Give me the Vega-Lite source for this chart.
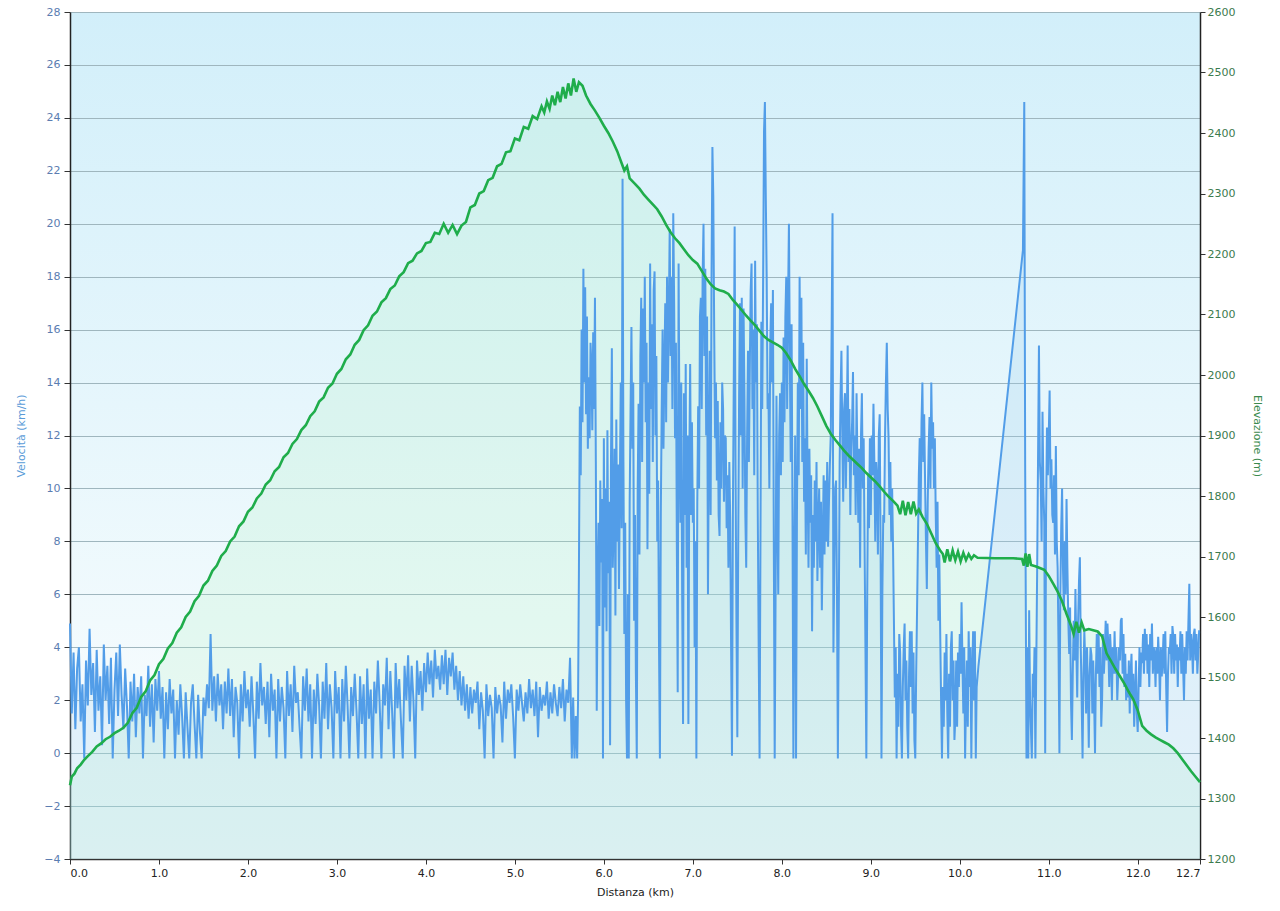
{
  "$schema": "https://vega.github.io/schema/vega-lite/v6.json",
  "width": 1130,
  "height": 847,
  "autosize": {"type": "none"},
  "padding": {"left": 70, "top": 12, "right": 80, "bottom": 52},
  "background": "#ffffff",
  "config": {
    "view": {"stroke": null, "fill": {"gradient": "linear", "x1": 0, "y1": 0, "x2": 0, "y2": 1, "stops": [{"offset": 0, "color": "#d2effa"}, {"offset": 0.72, "color": "#f1fafd"}, {"offset": 1, "color": "#ffffff"}]}},
    "font": "DejaVu Sans",
    "axis": {"labelFont": "DejaVu Sans", "titleFont": "DejaVu Sans", "labelFontSize": 11, "titleFontSize": 11, "titleFontWeight": "normal"}
  },
  "datasets": {
    "speed": [
      {"d":0.00,"v":4.9},{"d":0.02,"v":1.5},{"d":0.04,"v":3.8},{"d":0.06,"v":0.9},{"d":0.08,"v":3.2},{"d":0.10,"v":4.0},{"d":0.12,"v":1.2},{"d":0.14,"v":2.6},{"d":0.16,"v":-0.2},{"d":0.18,"v":3.5},
      {"d":0.20,"v":1.8},{"d":0.22,"v":4.7},{"d":0.24,"v":2.2},{"d":0.26,"v":3.4},{"d":0.28,"v":0.8},{"d":0.30,"v":3.9},{"d":0.32,"v":1.6},{"d":0.34,"v":2.9},{"d":0.36,"v":0.3},{"d":0.38,"v":4.1},
      {"d":0.40,"v":2.0},{"d":0.42,"v":3.3},{"d":0.44,"v":1.1},{"d":0.46,"v":3.6},{"d":0.48,"v":-0.2},{"d":0.50,"v":2.4},{"d":0.52,"v":3.8},{"d":0.54,"v":1.4},{"d":0.56,"v":4.1},{"d":0.58,"v":2.2},
      {"d":0.60,"v":0.9},{"d":0.62,"v":3.2},{"d":0.64,"v":1.8},{"d":0.66,"v":-0.2},{"d":0.68,"v":2.7},{"d":0.70,"v":1.2},{"d":0.72,"v":3.0},{"d":0.74,"v":0.6},{"d":0.76,"v":2.5},{"d":0.78,"v":1.5},
      {"d":0.80,"v":2.9},{"d":0.82,"v":-0.2},{"d":0.84,"v":2.2},{"d":0.86,"v":1.4},{"d":0.88,"v":3.3},{"d":0.90,"v":1.0},{"d":0.92,"v":2.6},{"d":0.94,"v":0.4},{"d":0.96,"v":2.8},{"d":0.98,"v":1.6},
      {"d":1.00,"v":3.1},{"d":1.02,"v":1.3},{"d":1.04,"v":2.5},{"d":1.06,"v":-0.2},{"d":1.08,"v":2.3},{"d":1.10,"v":0.9},{"d":1.12,"v":2.8},{"d":1.14,"v":1.5},{"d":1.16,"v":2.4},{"d":1.18,"v":-0.2},
      {"d":1.20,"v":2.0},{"d":1.22,"v":0.7},{"d":1.24,"v":2.6},{"d":1.26,"v":1.4},{"d":1.28,"v":-0.2},{"d":1.30,"v":2.3},{"d":1.32,"v":1.0},{"d":1.34,"v":-0.2},{"d":1.36,"v":1.9},{"d":1.38,"v":2.6},
      {"d":1.40,"v":1.1},{"d":1.42,"v":-0.2},{"d":1.44,"v":2.2},{"d":1.46,"v":0.8},{"d":1.48,"v":-0.2},{"d":1.50,"v":2.1},{"d":1.52,"v":1.4},{"d":1.54,"v":2.6},{"d":1.56,"v":1.7},{"d":1.58,"v":4.5},
      {"d":1.60,"v":1.6},{"d":1.62,"v":2.9},{"d":1.64,"v":1.2},{"d":1.66,"v":3.0},{"d":1.68,"v":1.8},{"d":1.70,"v":2.6},{"d":1.72,"v":0.9},{"d":1.74,"v":2.7},{"d":1.76,"v":1.5},{"d":1.78,"v":3.2},
      {"d":1.80,"v":1.4},{"d":1.82,"v":2.8},{"d":1.84,"v":0.6},{"d":1.86,"v":2.5},{"d":1.88,"v":1.9},{"d":1.90,"v":-0.2},{"d":1.92,"v":2.6},{"d":1.94,"v":1.2},{"d":1.96,"v":3.1},{"d":1.98,"v":1.7},
      {"d":2.00,"v":2.4},{"d":2.02,"v":1.0},{"d":2.04,"v":2.9},{"d":2.06,"v":1.5},{"d":2.08,"v":-0.2},{"d":2.10,"v":2.7},{"d":2.12,"v":1.3},{"d":2.14,"v":3.4},{"d":2.16,"v":1.8},{"d":2.18,"v":2.5},
      {"d":2.20,"v":1.1},{"d":2.22,"v":2.7},{"d":2.24,"v":0.6},{"d":2.26,"v":3.0},{"d":2.28,"v":1.6},{"d":2.30,"v":2.4},{"d":2.32,"v":-0.2},{"d":2.34,"v":2.8},{"d":2.36,"v":1.2},{"d":2.38,"v":2.5},
      {"d":2.40,"v":1.7},{"d":2.42,"v":-0.2},{"d":2.44,"v":3.1},{"d":2.46,"v":1.4},{"d":2.48,"v":2.6},{"d":2.50,"v":0.8},{"d":2.52,"v":3.3},{"d":2.54,"v":1.9},{"d":2.56,"v":2.3},{"d":2.58,"v":1.0},
      {"d":2.60,"v":-0.2},{"d":2.62,"v":2.9},{"d":2.64,"v":1.6},{"d":2.66,"v":3.2},{"d":2.68,"v":1.2},{"d":2.70,"v":2.6},{"d":2.72,"v":-0.2},{"d":2.74,"v":2.4},{"d":2.76,"v":1.1},{"d":2.78,"v":3.0},
      {"d":2.80,"v":1.8},{"d":2.82,"v":-0.2},{"d":2.84,"v":2.7},{"d":2.86,"v":1.3},{"d":2.88,"v":3.4},{"d":2.90,"v":0.9},{"d":2.92,"v":2.6},{"d":2.94,"v":1.7},{"d":2.96,"v":-0.2},{"d":2.98,"v":3.1},
      {"d":3.00,"v":1.5},{"d":3.02,"v":2.5},{"d":3.04,"v":-0.2},{"d":3.06,"v":2.8},{"d":3.08,"v":1.2},{"d":3.10,"v":3.3},{"d":3.12,"v":1.8},{"d":3.14,"v":-0.2},{"d":3.16,"v":2.5},{"d":3.18,"v":1.4},
      {"d":3.20,"v":3.0},{"d":3.22,"v":1.6},{"d":3.24,"v":-0.2},{"d":3.26,"v":2.9},{"d":3.28,"v":1.1},{"d":3.30,"v":2.6},{"d":3.32,"v":-0.2},{"d":3.34,"v":3.2},{"d":3.36,"v":1.3},{"d":3.38,"v":2.4},
      {"d":3.40,"v":-0.2},{"d":3.42,"v":2.7},{"d":3.44,"v":1.5},{"d":3.46,"v":3.5},{"d":3.48,"v":1.9},{"d":3.50,"v":-0.2},{"d":3.52,"v":2.6},{"d":3.54,"v":1.8},{"d":3.56,"v":3.6},{"d":3.58,"v":0.9},
      {"d":3.60,"v":3.1},{"d":3.62,"v":1.6},{"d":3.64,"v":-0.2},{"d":3.66,"v":3.4},{"d":3.68,"v":1.7},{"d":3.70,"v":2.8},{"d":3.72,"v":1.2},{"d":3.74,"v":-0.2},{"d":3.76,"v":3.3},{"d":3.78,"v":2.0},
      {"d":3.80,"v":3.7},{"d":3.82,"v":1.2},{"d":3.84,"v":3.3},{"d":3.86,"v":2.0},{"d":3.88,"v":-0.2},{"d":3.90,"v":3.5},{"d":3.92,"v":2.2},{"d":3.94,"v":3.1},{"d":3.96,"v":1.6},{"d":3.98,"v":3.4},
      {"d":4.00,"v":2.3},{"d":4.02,"v":3.8},{"d":4.04,"v":2.6},{"d":4.06,"v":3.5},{"d":4.08,"v":2.1},{"d":4.10,"v":3.9},{"d":4.12,"v":2.8},{"d":4.14,"v":3.3},{"d":4.16,"v":2.4},{"d":4.18,"v":3.7},
      {"d":4.20,"v":2.6},{"d":4.22,"v":3.9},{"d":4.24,"v":2.2},{"d":4.26,"v":3.6},{"d":4.28,"v":2.9},{"d":4.30,"v":3.8},{"d":4.32,"v":2.4},{"d":4.34,"v":3.3},{"d":4.36,"v":2.0},{"d":4.38,"v":3.1},
      {"d":4.40,"v":1.8},{"d":4.42,"v":2.9},{"d":4.44,"v":1.6},{"d":4.46,"v":2.6},{"d":4.48,"v":1.3},{"d":4.50,"v":2.5},{"d":4.52,"v":1.5},{"d":4.54,"v":2.4},{"d":4.56,"v":1.9},{"d":4.58,"v":2.7},
      {"d":4.60,"v":0.9},{"d":4.62,"v":2.3},{"d":4.64,"v":1.6},{"d":4.66,"v":-0.2},{"d":4.68,"v":2.6},{"d":4.70,"v":1.4},{"d":4.72,"v":2.2},{"d":4.74,"v":1.7},{"d":4.76,"v":-0.2},{"d":4.78,"v":2.5},
      {"d":4.80,"v":1.5},{"d":4.82,"v":2.2},{"d":4.84,"v":1.8},{"d":4.86,"v":0.4},{"d":4.88,"v":2.7},{"d":4.90,"v":1.3},{"d":4.92,"v":2.4},{"d":4.94,"v":1.9},{"d":4.96,"v":2.6},{"d":4.98,"v":1.4},
      {"d":5.00,"v":-0.2},{"d":5.02,"v":2.4},{"d":5.04,"v":1.6},{"d":5.06,"v":2.6},{"d":5.08,"v":1.9},{"d":5.10,"v":1.2},{"d":5.12,"v":2.3},{"d":5.14,"v":1.5},{"d":5.16,"v":2.8},{"d":5.18,"v":1.7},
      {"d":5.20,"v":2.4},{"d":5.22,"v":1.4},{"d":5.24,"v":2.7},{"d":5.26,"v":0.6},{"d":5.28,"v":2.5},{"d":5.30,"v":1.6},{"d":5.32,"v":2.2},{"d":5.34,"v":1.8},{"d":5.36,"v":2.7},{"d":5.38,"v":1.3},
      {"d":5.40,"v":2.3},{"d":5.42,"v":1.5},{"d":5.44,"v":2.6},{"d":5.46,"v":1.9},{"d":5.48,"v":1.4},{"d":5.50,"v":2.5},{"d":5.52,"v":1.7},{"d":5.54,"v":2.8},{"d":5.56,"v":1.2},{"d":5.58,"v":2.4},
      {"d":5.60,"v":1.9},{"d":5.62,"v":3.6},{"d":5.64,"v":-0.2},
      {"d":5.655,"v":2.1},{"d":5.67,"v":-0.2},{"d":5.685,"v":1.4},{"d":5.70,"v":-0.2},{"d":5.71,"v":2.0},{"d":5.72,"v":7.0},{"d":5.73,"v":13.1},{"d":5.74,"v":10.5},{"d":5.75,"v":16.0},{"d":5.76,"v":12.5},
      {"d":5.77,"v":18.3},{"d":5.78,"v":14.0},{"d":5.79,"v":17.6},{"d":5.80,"v":12.8},{"d":5.81,"v":16.5},{"d":5.82,"v":11.5},{"d":5.83,"v":14.2},{"d":5.84,"v":11.9},{"d":5.85,"v":15.5},{"d":5.86,"v":14.7},
      {"d":5.87,"v":12.2},{"d":5.88,"v":15.9},{"d":5.89,"v":13.0},{"d":5.90,"v":17.2},{"d":5.91,"v":11.0},{"d":5.92,"v":1.6},{"d":5.93,"v":6.5},{"d":5.94,"v":8.7},{"d":5.95,"v":4.8},{"d":5.96,"v":10.3},
      {"d":5.97,"v":7.2},{"d":5.98,"v":9.6},{"d":5.99,"v":-0.2},{"d":6.00,"v":11.9},{"d":6.01,"v":5.5},{"d":6.02,"v":10.0},{"d":6.03,"v":4.6},{"d":6.04,"v":12.2},{"d":6.05,"v":6.8},{"d":6.06,"v":9.5},
      {"d":6.07,"v":0.3},{"d":6.08,"v":11.0},{"d":6.09,"v":15.3},{"d":6.10,"v":7.0},{"d":6.11,"v":8.7},{"d":6.12,"v":11.5},{"d":6.13,"v":5.2},{"d":6.14,"v":12.6},{"d":6.15,"v":8.0},{"d":6.16,"v":10.9},
      {"d":6.17,"v":6.2},{"d":6.18,"v":10.3},{"d":6.19,"v":14.0},{"d":6.20,"v":8.5},{"d":6.21,"v":21.7},{"d":6.22,"v":11.0},{"d":6.23,"v":4.5},{"d":6.24,"v":8.7},{"d":6.25,"v":2.0},{"d":6.26,"v":-0.2},
      {"d":6.27,"v":6.0},{"d":6.28,"v":-0.2},{"d":6.29,"v":9.5},{"d":6.30,"v":13.0},{"d":6.31,"v":16.1},{"d":6.32,"v":11.5},{"d":6.33,"v":14.0},{"d":6.34,"v":5.0},{"d":6.35,"v":9.0},{"d":6.36,"v":3.0},
      {"d":6.37,"v":-0.2},{"d":6.38,"v":10.0},{"d":6.39,"v":13.2},{"d":6.40,"v":7.5},{"d":6.41,"v":15.0},{"d":6.42,"v":17.2},{"d":6.43,"v":11.0},{"d":6.44,"v":16.8},{"d":6.45,"v":14.0},{"d":6.46,"v":18.0},
      {"d":6.47,"v":12.5},{"d":6.48,"v":15.5},{"d":6.49,"v":7.7},{"d":6.50,"v":14.0},{"d":6.51,"v":9.8},{"d":6.52,"v":18.5},{"d":6.53,"v":13.0},{"d":6.54,"v":16.2},{"d":6.55,"v":11.0},{"d":6.56,"v":17.5},
      {"d":6.57,"v":18.2},{"d":6.58,"v":12.0},{"d":6.59,"v":15.0},{"d":6.60,"v":8.0},{"d":6.61,"v":10.3},{"d":6.62,"v":4.0},{"d":6.63,"v":-0.2},{"d":6.64,"v":9.0},{"d":6.65,"v":13.0},{"d":6.66,"v":16.0},
      {"d":6.67,"v":11.5},{"d":6.68,"v":14.5},{"d":6.69,"v":17.0},{"d":6.70,"v":12.5},{"d":6.71,"v":18.0},{"d":6.72,"v":14.0},{"d":6.73,"v":16.5},{"d":6.74,"v":19.8},{"d":6.75,"v":15.0},{"d":6.76,"v":18.0},
      {"d":6.77,"v":13.0},{"d":6.78,"v":20.4},{"d":6.79,"v":17.0},{"d":6.80,"v":11.9},{"d":6.81,"v":15.5},{"d":6.82,"v":8.0},{"d":6.83,"v":2.3},{"d":6.84,"v":18.5},{"d":6.85,"v":12.0},{"d":6.86,"v":8.7},
      {"d":6.87,"v":14.0},{"d":6.88,"v":6.0},{"d":6.89,"v":1.1},{"d":6.90,"v":13.6},{"d":6.91,"v":9.0},{"d":6.92,"v":14.7},{"d":6.93,"v":7.0},{"d":6.94,"v":12.0},{"d":6.95,"v":1.1},{"d":6.96,"v":11.0},
      {"d":6.97,"v":14.7},{"d":6.98,"v":9.0},{"d":6.99,"v":12.5},{"d":7.00,"v":8.7},{"d":7.01,"v":10.0},{"d":7.02,"v":4.0},{"d":7.03,"v":8.0},{"d":7.04,"v":-0.2},{"d":7.05,"v":9.5},{"d":7.06,"v":13.1},
      {"d":7.07,"v":10.0},{"d":7.08,"v":16.5},{"d":7.09,"v":17.2},{"d":7.10,"v":13.0},{"d":7.11,"v":18.0},{"d":7.12,"v":20.0},{"d":7.13,"v":15.0},{"d":7.14,"v":18.3},{"d":7.15,"v":12.0},{"d":7.16,"v":16.5},
      {"d":7.17,"v":6.0},{"d":7.18,"v":11.5},{"d":7.19,"v":15.2},{"d":7.20,"v":9.0},{"d":7.21,"v":18.0},{"d":7.22,"v":22.9},{"d":7.23,"v":21.0},{"d":7.24,"v":16.0},{"d":7.25,"v":11.9},{"d":7.26,"v":14.0},
      {"d":7.27,"v":10.3},{"d":7.28,"v":13.3},{"d":7.29,"v":9.0},{"d":7.30,"v":8.2},{"d":7.31,"v":12.5},{"d":7.32,"v":10.0},{"d":7.33,"v":14.0},{"d":7.34,"v":13.0},{"d":7.35,"v":9.5},{"d":7.36,"v":12.0},
      {"d":7.37,"v":11.9},{"d":7.38,"v":8.5},{"d":7.39,"v":10.5},{"d":7.40,"v":7.0},{"d":7.41,"v":11.0},{"d":7.42,"v":8.8},{"d":7.43,"v":4.0},{"d":7.44,"v":-0.1},{"d":7.45,"v":9.0},{"d":7.46,"v":14.0},
      {"d":7.47,"v":19.9},{"d":7.48,"v":11.0},{"d":7.49,"v":5.0},{"d":7.50,"v":0.6},{"d":7.51,"v":8.0},{"d":7.52,"v":13.5},{"d":7.53,"v":17.0},{"d":7.54,"v":12.0},{"d":7.55,"v":17.2},{"d":7.56,"v":10.0},
      {"d":7.57,"v":16.8},{"d":7.58,"v":13.5},{"d":7.59,"v":9.0},{"d":7.60,"v":7.0},{"d":7.61,"v":12.0},{"d":7.62,"v":15.2},{"d":7.63,"v":11.0},{"d":7.64,"v":14.5},{"d":7.65,"v":17.5},{"d":7.66,"v":18.5},
      {"d":7.67,"v":13.0},{"d":7.68,"v":16.0},{"d":7.69,"v":10.5},{"d":7.70,"v":18.6},{"d":7.71,"v":14.0},{"d":7.72,"v":16.2},{"d":7.73,"v":9.0},{"d":7.74,"v":4.0},{"d":7.75,"v":-0.2},{"d":7.76,"v":8.0},
      {"d":7.77,"v":16.3},{"d":7.78,"v":13.0},{"d":7.79,"v":18.0},{"d":7.80,"v":23.5},{"d":7.81,"v":24.6},{"d":7.82,"v":21.0},{"d":7.83,"v":18.0},{"d":7.84,"v":13.0},{"d":7.85,"v":13.6},{"d":7.86,"v":10.0},
      {"d":7.87,"v":15.5},{"d":7.88,"v":17.0},{"d":7.89,"v":14.0},{"d":7.90,"v":17.5},{"d":7.91,"v":8.0},{"d":7.92,"v":-0.2},{"d":7.93,"v":6.0},{"d":7.94,"v":13.5},{"d":7.95,"v":9.0},{"d":7.96,"v":6.0},
      {"d":7.97,"v":12.0},{"d":7.98,"v":13.6},{"d":7.99,"v":10.5},{"d":8.00,"v":14.0},{"d":8.01,"v":11.0},{"d":8.02,"v":15.7},{"d":8.03,"v":12.5},{"d":8.04,"v":16.5},{"d":8.05,"v":18.0},{"d":8.06,"v":13.0},
      {"d":8.07,"v":17.0},{"d":8.08,"v":20.0},{"d":8.09,"v":15.0},{"d":8.10,"v":11.0},{"d":8.11,"v":16.2},{"d":8.12,"v":9.0},{"d":8.13,"v":-0.2},{"d":8.14,"v":7.0},{"d":8.15,"v":12.0},{"d":8.16,"v":-0.2},
      {"d":8.17,"v":9.0},{"d":8.18,"v":14.0},{"d":8.19,"v":10.5},{"d":8.20,"v":18.0},{"d":8.21,"v":13.0},{"d":8.22,"v":17.2},{"d":8.23,"v":11.0},{"d":8.24,"v":15.5},{"d":8.25,"v":9.5},{"d":8.26,"v":11.9},
      {"d":8.27,"v":7.5},{"d":8.28,"v":14.9},{"d":8.29,"v":10.0},{"d":8.30,"v":7.0},{"d":8.31,"v":11.5},{"d":8.32,"v":8.7},{"d":8.33,"v":10.5},{"d":8.34,"v":4.6},{"d":8.35,"v":9.0},{"d":8.36,"v":7.0},
      {"d":8.37,"v":10.3},{"d":8.38,"v":8.0},{"d":8.39,"v":11.0},{"d":8.40,"v":6.5},{"d":8.41,"v":8.7},{"d":8.42,"v":10.0},{"d":8.43,"v":7.0},{"d":8.44,"v":9.5},{"d":8.45,"v":5.4},{"d":8.46,"v":8.0},
      {"d":8.47,"v":10.5},{"d":8.48,"v":7.5},{"d":8.49,"v":10.3},{"d":8.50,"v":8.0},{"d":8.51,"v":11.0},{"d":8.52,"v":7.8},{"d":8.53,"v":9.5},{"d":8.54,"v":10.9},{"d":8.55,"v":12.0},{"d":8.56,"v":16.0},
      {"d":8.57,"v":20.4},{"d":8.575,"v":12.0},{"d":8.58,"v":3.8},{"d":8.59,"v":7.0},{"d":8.60,"v":10.0},{"d":8.61,"v":10.3},{"d":8.62,"v":6.0},{"d":8.63,"v":-0.2},{"d":8.64,"v":5.0},{"d":8.65,"v":11.0},
      {"d":8.66,"v":13.5},{"d":8.67,"v":15.2},{"d":8.68,"v":12.0},{"d":8.69,"v":9.5},{"d":8.70,"v":13.0},{"d":8.71,"v":13.6},{"d":8.72,"v":10.0},{"d":8.73,"v":12.5},{"d":8.74,"v":15.4},{"d":8.75,"v":11.0},
      {"d":8.76,"v":13.0},{"d":8.77,"v":9.0},{"d":8.78,"v":11.5},{"d":8.79,"v":12.5},{"d":8.80,"v":14.4},{"d":8.81,"v":10.5},{"d":8.82,"v":12.0},{"d":8.83,"v":9.0},{"d":8.84,"v":13.6},{"d":8.85,"v":11.0},
      {"d":8.86,"v":8.7},{"d":8.87,"v":11.5},{"d":8.88,"v":7.0},{"d":8.89,"v":12.0},{"d":8.90,"v":13.6},{"d":8.91,"v":10.0},{"d":8.92,"v":11.9},{"d":8.93,"v":8.0},{"d":8.94,"v":4.0},{"d":8.95,"v":-0.2},
      {"d":8.96,"v":6.0},{"d":8.97,"v":10.5},{"d":8.98,"v":8.5},{"d":8.99,"v":11.9},{"d":9.00,"v":9.0},{"d":9.01,"v":12.0},{"d":9.02,"v":10.5},{"d":9.03,"v":13.2},{"d":9.04,"v":11.0},{"d":9.05,"v":8.0},
      {"d":9.06,"v":11.0},{"d":9.07,"v":10.3},{"d":9.08,"v":7.5},{"d":9.09,"v":12.0},{"d":9.10,"v":12.8},{"d":9.11,"v":8.0},{"d":9.12,"v":-0.2},{"d":9.13,"v":6.0},{"d":9.14,"v":9.0},{"d":9.15,"v":8.7},
      {"d":9.16,"v":12.0},{"d":9.17,"v":14.0},{"d":9.18,"v":15.5},{"d":9.19,"v":13.0},{"d":9.20,"v":11.9},{"d":9.21,"v":9.0},{"d":9.22,"v":11.0},{"d":9.23,"v":8.0},{"d":9.24,"v":10.0},{"d":9.25,"v":7.8},
      {"d":9.26,"v":5.0},{"d":9.27,"v":2.1},{"d":9.28,"v":4.0},{"d":9.29,"v":-0.2},{"d":9.30,"v":3.0},{"d":9.31,"v":1.0},{"d":9.32,"v":4.5},{"d":9.33,"v":3.8},{"d":9.34,"v":1.0},{"d":9.35,"v":-0.2},
      {"d":9.36,"v":2.5},{"d":9.37,"v":4.0},{"d":9.38,"v":4.9},{"d":9.39,"v":2.0},{"d":9.40,"v":3.5},{"d":9.41,"v":1.0},{"d":9.42,"v":-0.2},{"d":9.43,"v":3.0},{"d":9.44,"v":4.6},{"d":9.45,"v":2.5},
      {"d":9.46,"v":4.6},{"d":9.47,"v":1.5},{"d":9.48,"v":3.8},{"d":9.49,"v":0.5},{"d":9.50,"v":-0.2},{"d":9.51,"v":3.0},{"d":9.52,"v":5.4},{"d":9.53,"v":8.0},{"d":9.54,"v":10.5},{"d":9.55,"v":11.9},
      {"d":9.56,"v":9.0},{"d":9.57,"v":12.5},{"d":9.58,"v":14.0},{"d":9.59,"v":11.0},{"d":9.60,"v":12.8},{"d":9.61,"v":10.3},{"d":9.62,"v":8.0},{"d":9.63,"v":6.2},{"d":9.64,"v":9.5},{"d":9.65,"v":11.5},
      {"d":9.66,"v":12.7},{"d":9.67,"v":10.0},{"d":9.68,"v":14.0},{"d":9.69,"v":11.5},{"d":9.70,"v":12.5},{"d":9.71,"v":10.0},{"d":9.72,"v":11.9},{"d":9.73,"v":9.0},{"d":9.74,"v":7.0},{"d":9.75,"v":9.5},
      {"d":9.76,"v":5.0},{"d":9.77,"v":7.5},{"d":9.78,"v":4.6},{"d":9.79,"v":2.0},{"d":9.80,"v":-0.2},{"d":9.81,"v":2.5},{"d":9.82,"v":1.0},{"d":9.83,"v":3.8},{"d":9.84,"v":2.0},{"d":9.85,"v":4.5},
      {"d":9.86,"v":1.5},{"d":9.87,"v":-0.2},{"d":9.88,"v":3.0},{"d":9.89,"v":1.0},{"d":9.90,"v":4.0},{"d":9.91,"v":4.6},{"d":9.92,"v":2.0},{"d":9.93,"v":3.5},{"d":9.94,"v":0.5},{"d":9.95,"v":1.3},
      {"d":9.96,"v":3.5},{"d":9.97,"v":1.0},{"d":9.98,"v":3.8},{"d":9.99,"v":2.5},{"d":10.00,"v":4.5},{"d":10.01,"v":3.0},{"d":10.02,"v":5.7},{"d":10.03,"v":3.5},{"d":10.04,"v":1.5},{"d":10.05,"v":4.0},
      {"d":10.06,"v":-0.2},{"d":10.07,"v":2.0},{"d":10.08,"v":3.5},{"d":10.09,"v":1.0},{"d":10.10,"v":4.6},{"d":10.11,"v":2.5},{"d":10.12,"v":4.0},{"d":10.13,"v":-0.2},{"d":10.14,"v":3.0},{"d":10.15,"v":4.6},
      {"d":10.16,"v":2.0},{"d":10.17,"v":4.6},{"d":10.18,"v":-0.2},{"d":10.19,"v":2.5},{"d":10.21,"v":3.3},{"d":10.71,"v":19.0},{"d":10.725,"v":24.6},{"d":10.735,"v":10.9},{"d":10.75,"v":-0.2},{"d":10.76,"v":4.0},
      {"d":10.77,"v":-0.2},{"d":10.78,"v":5.4},{"d":10.79,"v":2.0},{"d":10.81,"v":-0.2},{"d":10.82,"v":3.0},{"d":10.83,"v":2.1},{"d":10.84,"v":4.0},{"d":10.85,"v":-0.2},{"d":10.87,"v":7.0},{"d":10.89,"v":15.4},
      {"d":10.90,"v":11.0},{"d":10.91,"v":10.3},{"d":10.92,"v":8.0},{"d":10.93,"v":12.9},{"d":10.94,"v":10.0},{"d":10.95,"v":8.7},{"d":10.96,"v":0.0},{"d":10.97,"v":9.0},{"d":10.98,"v":12.3},{"d":10.99,"v":10.5},
      {"d":11.00,"v":12.0},{"d":11.01,"v":13.7},{"d":11.02,"v":10.0},{"d":11.03,"v":11.1},{"d":11.04,"v":9.0},{"d":11.05,"v":8.7},{"d":11.06,"v":10.5},{"d":11.07,"v":7.5},{"d":11.08,"v":11.6},{"d":11.09,"v":8.0},
      {"d":11.10,"v":7.0},{"d":11.11,"v":4.0},{"d":11.12,"v":0.0},{"d":11.13,"v":6.0},{"d":11.14,"v":8.5},{"d":11.15,"v":10.0},{"d":11.16,"v":7.0},{"d":11.17,"v":5.4},{"d":11.18,"v":8.0},{"d":11.19,"v":6.0},
      {"d":11.20,"v":9.6},{"d":11.21,"v":7.0},{"d":11.22,"v":5.0},{"d":11.23,"v":3.75},{"d":11.24,"v":5.5},{"d":11.25,"v":2.0},{"d":11.26,"v":0.5},{"d":11.27,"v":3.0},{"d":11.28,"v":5.0},{"d":11.29,"v":3.5},
      {"d":11.30,"v":6.2},{"d":11.31,"v":4.0},{"d":11.32,"v":2.1},{"d":11.33,"v":5.0},{"d":11.34,"v":6.5},{"d":11.35,"v":7.4},{"d":11.36,"v":4.0},{"d":11.37,"v":2.0},{"d":11.38,"v":-0.2},{"d":11.39,"v":3.0},
      {"d":11.40,"v":4.6},{"d":11.41,"v":3.5},{"d":11.42,"v":1.5},{"d":11.43,"v":4.0},{"d":11.44,"v":2.5},{"d":11.45,"v":0.2},{"d":11.46,"v":3.0},{"d":11.47,"v":4.0},{"d":11.48,"v":3.7},{"d":11.49,"v":1.5},
      {"d":11.50,"v":3.5},{"d":11.51,"v":2.0},{"d":11.52,"v":0.0},{"d":11.53,"v":3.0},{"d":11.54,"v":4.5},{"d":11.55,"v":3.0},{"d":11.56,"v":4.6},{"d":11.57,"v":2.5},{"d":11.58,"v":4.0},{"d":11.59,"v":1.0},
      {"d":11.60,"v":2.1},{"d":11.61,"v":4.5},{"d":11.62,"v":3.0},{"d":11.63,"v":3.9},{"d":11.64,"v":5.0},{"d":11.65,"v":3.5},{"d":11.66,"v":4.9},{"d":11.67,"v":4.0},{"d":11.68,"v":2.5},{"d":11.69,"v":4.5},
      {"d":11.70,"v":3.7},{"d":11.71,"v":2.0},{"d":11.72,"v":4.0},{"d":11.73,"v":3.0},{"d":11.74,"v":4.6},{"d":11.75,"v":3.0},{"d":11.76,"v":4.0},{"d":11.77,"v":2.0},{"d":11.78,"v":2.9},{"d":11.79,"v":4.0},
      {"d":11.80,"v":3.5},{"d":11.81,"v":5.0},{"d":11.82,"v":5.1},{"d":11.83,"v":3.0},{"d":11.84,"v":4.5},{"d":11.85,"v":2.5},{"d":11.86,"v":3.75},{"d":11.87,"v":2.0},{"d":11.88,"v":3.0},{"d":11.89,"v":2.1},
      {"d":11.90,"v":3.5},{"d":11.91,"v":1.5},{"d":11.92,"v":3.0},{"d":11.93,"v":3.75},{"d":11.94,"v":2.0},{"d":11.95,"v":3.0},{"d":11.96,"v":1.0},{"d":11.97,"v":2.1},{"d":11.98,"v":3.5},{"d":11.99,"v":1.5},
      {"d":12.00,"v":0.8},{"d":12.01,"v":2.5},{"d":12.02,"v":4.0},{"d":12.03,"v":2.5},{"d":12.04,"v":3.8},{"d":12.05,"v":3.4},{"d":12.06,"v":4.5},{"d":12.07,"v":3.0},{"d":12.08,"v":4.7},{"d":12.09,"v":3.5},
      {"d":12.10,"v":4.5},{"d":12.11,"v":3.0},{"d":12.12,"v":4.1},{"d":12.13,"v":2.5},{"d":12.14,"v":4.5},{"d":12.15,"v":3.5},{"d":12.16,"v":4.9},{"d":12.17,"v":3.0},{"d":12.18,"v":4.0},{"d":12.19,"v":3.75},
      {"d":12.20,"v":2.5},{"d":12.21,"v":4.0},{"d":12.22,"v":3.0},{"d":12.23,"v":4.4},{"d":12.24,"v":3.5},{"d":12.25,"v":2.0},{"d":12.26,"v":4.0},{"d":12.27,"v":2.9},{"d":12.28,"v":3.5},{"d":12.29,"v":4.5},
      {"d":12.30,"v":3.0},{"d":12.31,"v":4.6},{"d":12.32,"v":2.5},{"d":12.33,"v":0.8},{"d":12.34,"v":3.0},{"d":12.35,"v":4.0},{"d":12.36,"v":3.75},{"d":12.37,"v":4.5},{"d":12.38,"v":3.0},{"d":12.39,"v":4.8},
      {"d":12.40,"v":4.4},{"d":12.41,"v":3.0},{"d":12.42,"v":4.5},{"d":12.43,"v":3.5},{"d":12.44,"v":4.1},{"d":12.45,"v":2.5},{"d":12.46,"v":4.0},{"d":12.47,"v":3.5},{"d":12.48,"v":4.6},{"d":12.49,"v":3.0},
      {"d":12.50,"v":4.5},{"d":12.51,"v":3.3},{"d":12.52,"v":2.0},{"d":12.53,"v":4.0},{"d":12.54,"v":3.0},{"d":12.55,"v":4.6},{"d":12.56,"v":3.5},{"d":12.57,"v":5.0},{"d":12.58,"v":6.4},{"d":12.59,"v":3.5},
      {"d":12.60,"v":4.5},{"d":12.61,"v":4.1},{"d":12.62,"v":3.0},{"d":12.63,"v":4.5},{"d":12.64,"v":4.7},{"d":12.65,"v":3.5},{"d":12.66,"v":4.5},{"d":12.67,"v":3.0},{"d":12.68,"v":3.75},{"d":12.69,"v":4.6},
      {"d":12.70,"v":4.6}
    ],
    "elev": [
      {"d":0.00,"e":1322},{"d":0.02,"e":1336},{"d":0.05,"e":1341},{"d":0.08,"e":1350},{"d":0.12,"e":1356},{"d":0.16,"e":1364},{"d":0.20,"e":1370},{"d":0.25,"e":1377},{"d":0.30,"e":1386},{"d":0.35,"e":1391},
      {"d":0.40,"e":1398},{"d":0.45,"e":1402},{"d":0.50,"e":1408},{"d":0.55,"e":1412},{"d":0.60,"e":1417},{"d":0.65,"e":1425},{"d":0.70,"e":1441},{"d":0.75,"e":1450},{"d":0.80,"e":1468},{"d":0.85,"e":1477},
      {"d":0.90,"e":1495},{"d":0.95,"e":1504},{"d":1.00,"e":1522},{"d":1.05,"e":1531},{"d":1.10,"e":1548},{"d":1.15,"e":1557},{"d":1.20,"e":1574},{"d":1.25,"e":1583},{"d":1.30,"e":1600},{"d":1.35,"e":1609},
      {"d":1.40,"e":1626},{"d":1.45,"e":1635},{"d":1.50,"e":1652},{"d":1.55,"e":1660},{"d":1.60,"e":1676},{"d":1.65,"e":1685},{"d":1.70,"e":1701},{"d":1.75,"e":1709},{"d":1.80,"e":1725},{"d":1.85,"e":1733},
      {"d":1.90,"e":1750},{"d":1.95,"e":1758},{"d":2.00,"e":1774},{"d":2.05,"e":1781},{"d":2.10,"e":1796},{"d":2.15,"e":1804},{"d":2.20,"e":1819},{"d":2.25,"e":1826},{"d":2.30,"e":1841},{"d":2.35,"e":1848},
      {"d":2.40,"e":1864},{"d":2.45,"e":1871},{"d":2.50,"e":1886},{"d":2.55,"e":1894},{"d":2.60,"e":1909},{"d":2.65,"e":1917},{"d":2.70,"e":1932},{"d":2.75,"e":1940},{"d":2.80,"e":1956},{"d":2.85,"e":1963},
      {"d":2.90,"e":1979},{"d":2.95,"e":1986},{"d":3.00,"e":2002},{"d":3.05,"e":2010},{"d":3.10,"e":2026},{"d":3.15,"e":2034},{"d":3.20,"e":2050},{"d":3.25,"e":2058},{"d":3.30,"e":2074},{"d":3.35,"e":2082},
      {"d":3.40,"e":2098},{"d":3.45,"e":2105},{"d":3.50,"e":2120},{"d":3.55,"e":2127},{"d":3.60,"e":2142},{"d":3.65,"e":2148},{"d":3.70,"e":2163},{"d":3.75,"e":2170},{"d":3.80,"e":2185},{"d":3.85,"e":2189},
      {"d":3.90,"e":2201},{"d":3.95,"e":2205},{"d":4.00,"e":2218},{"d":4.05,"e":2220},{"d":4.10,"e":2235},{"d":4.15,"e":2233},{"d":4.20,"e":2250},{"d":4.25,"e":2235},{"d":4.30,"e":2248},{"d":4.35,"e":2233},
      {"d":4.40,"e":2247},{"d":4.45,"e":2253},{"d":4.50,"e":2277},{"d":4.55,"e":2281},{"d":4.60,"e":2300},{"d":4.65,"e":2304},{"d":4.70,"e":2322},{"d":4.75,"e":2326},{"d":4.80,"e":2345},{"d":4.85,"e":2349},
      {"d":4.90,"e":2368},{"d":4.95,"e":2370},{"d":5.00,"e":2391},{"d":5.05,"e":2388},{"d":5.10,"e":2410},{"d":5.15,"e":2407},{"d":5.20,"e":2428},{"d":5.25,"e":2423},{"d":5.30,"e":2444},{"d":5.33,"e":2434},
      {"d":5.36,"e":2452},{"d":5.39,"e":2440},{"d":5.42,"e":2462},{"d":5.45,"e":2446},{"d":5.48,"e":2468},{"d":5.51,"e":2451},{"d":5.54,"e":2476},{"d":5.57,"e":2457},{"d":5.60,"e":2482},{"d":5.63,"e":2462},
      {"d":5.66,"e":2490},{"d":5.69,"e":2468},{"d":5.72,"e":2484},{"d":5.76,"e":2478},{"d":5.80,"e":2462},{"d":5.85,"e":2448},{"d":5.90,"e":2437},{"d":5.95,"e":2425},{"d":6.00,"e":2412},{"d":6.05,"e":2400},
      {"d":6.10,"e":2386},{"d":6.15,"e":2370},{"d":6.20,"e":2350},{"d":6.23,"e":2338},{"d":6.26,"e":2345},{"d":6.29,"e":2325},{"d":6.35,"e":2316},{"d":6.40,"e":2308},{"d":6.45,"e":2298},{"d":6.50,"e":2290},
      {"d":6.55,"e":2282},{"d":6.60,"e":2274},{"d":6.65,"e":2262},{"d":6.70,"e":2248},{"d":6.75,"e":2236},{"d":6.80,"e":2226},{"d":6.85,"e":2218},{"d":6.90,"e":2208},{"d":6.95,"e":2198},{"d":7.00,"e":2190},
      {"d":7.05,"e":2184},{"d":7.10,"e":2172},{"d":7.15,"e":2160},{"d":7.20,"e":2150},{"d":7.25,"e":2143},{"d":7.30,"e":2140},{"d":7.35,"e":2138},{"d":7.40,"e":2134},{"d":7.45,"e":2124},{"d":7.50,"e":2116},
      {"d":7.55,"e":2107},{"d":7.60,"e":2098},{"d":7.65,"e":2090},{"d":7.70,"e":2082},{"d":7.75,"e":2073},{"d":7.80,"e":2064},{"d":7.85,"e":2058},{"d":7.90,"e":2054},{"d":7.95,"e":2050},{"d":8.00,"e":2045},
      {"d":8.05,"e":2036},{"d":8.10,"e":2024},{"d":8.15,"e":2010},{"d":8.20,"e":1998},{"d":8.25,"e":1985},{"d":8.30,"e":1974},{"d":8.35,"e":1962},{"d":8.40,"e":1948},{"d":8.45,"e":1932},{"d":8.50,"e":1916},
      {"d":8.55,"e":1903},{"d":8.60,"e":1893},{"d":8.65,"e":1884},{"d":8.70,"e":1875},{"d":8.75,"e":1867},{"d":8.80,"e":1860},{"d":8.85,"e":1853},{"d":8.90,"e":1846},{"d":8.95,"e":1838},{"d":9.00,"e":1831},
      {"d":9.05,"e":1824},{"d":9.10,"e":1816},{"d":9.15,"e":1807},{"d":9.20,"e":1799},{"d":9.25,"e":1792},{"d":9.30,"e":1784},{"d":9.33,"e":1770},{"d":9.36,"e":1792},{"d":9.39,"e":1768},{"d":9.42,"e":1790},
      {"d":9.45,"e":1770},{"d":9.48,"e":1791},{"d":9.51,"e":1771},{"d":9.54,"e":1778},{"d":9.58,"e":1766},{"d":9.63,"e":1754},{"d":9.68,"e":1738},{"d":9.73,"e":1722},{"d":9.78,"e":1710},{"d":9.81,"e":1704},
      {"d":9.83,"e":1690},{"d":9.86,"e":1712},{"d":9.89,"e":1692},{"d":9.92,"e":1710},{"d":9.95,"e":1694},{"d":9.98,"e":1708},{"d":10.01,"e":1692},{"d":10.04,"e":1706},{"d":10.07,"e":1694},{"d":10.10,"e":1704},
      {"d":10.13,"e":1696},{"d":10.16,"e":1702},{"d":10.20,"e":1698},{"d":10.40,"e":1697},{"d":10.60,"e":1697},{"d":10.70,"e":1696},{"d":10.72,"e":1685},{"d":10.74,"e":1705},{"d":10.76,"e":1683},{"d":10.78,"e":1704},
      {"d":10.80,"e":1686},{"d":10.85,"e":1684},{"d":10.90,"e":1681},{"d":10.95,"e":1678},{"d":11.00,"e":1668},{"d":11.05,"e":1655},{"d":11.10,"e":1642},{"d":11.15,"e":1626},{"d":11.20,"e":1605},{"d":11.25,"e":1586},
      {"d":11.28,"e":1572},{"d":11.31,"e":1592},{"d":11.34,"e":1574},{"d":11.37,"e":1591},{"d":11.40,"e":1578},{"d":11.45,"e":1580},{"d":11.50,"e":1578},{"d":11.55,"e":1576},{"d":11.60,"e":1568},{"d":11.65,"e":1540},
      {"d":11.70,"e":1527},{"d":11.75,"e":1514},{"d":11.80,"e":1502},{"d":11.85,"e":1490},{"d":11.90,"e":1476},{"d":11.95,"e":1464},{"d":12.00,"e":1446},{"d":12.05,"e":1420},{"d":12.10,"e":1412},{"d":12.15,"e":1406},
      {"d":12.20,"e":1401},{"d":12.25,"e":1397},{"d":12.30,"e":1393},{"d":12.35,"e":1389},{"d":12.40,"e":1383},{"d":12.45,"e":1375},{"d":12.50,"e":1365},{"d":12.55,"e":1355},{"d":12.60,"e":1345},{"d":12.65,"e":1336},
      {"d":12.70,"e":1327}
    ]
  },
  "encoding": {
    "x": {
      "field": "d", "type": "quantitative",
      "scale": {"domain": [0, 12.7], "nice": false, "zero": false},
      "axis": {
        "values": [0,1,2,3,4,5,6,7,8,9,10,11,12,12.7],
        "format": ".1f", "labelFlush": true, "grid": false,
        "title": "Distanza  (km)", "titleColor": "#222222", "titlePadding": 8,
        "labelColor": "#222222", "labelPadding": 3,
        "domainColor": "#333333", "domainWidth": 1.5,
        "tickColor": "#333333", "tickSize": 5
      }
    }
  },
  "layer": [
    {
      "data": {"name": "elev"},
      "mark": {"type": "area", "color": "#a8f0c0", "opacity": 0.2},
      "encoding": {
        "y": {"field": "e", "type": "quantitative", "scale": {"domain": [1200, 2600], "nice": false, "zero": false}, "axis": null},
        "y2": {"datum": 1200}
      }
    },
    {
      "data": {"name": "speed"},
      "encoding": {
        "y": {
          "field": "v", "type": "quantitative",
          "scale": {"domain": [-4, 28], "nice": false, "zero": false},
          "axis": {
            "orient": "left",
            "values": [-4,-2,0,2,4,6,8,10,12,14,16,18,20,22,24,26,28],
            "grid": true, "gridColor": "#9fb6be", "gridWidth": 1,
            "title": "Velocità (km/h)", "titleColor": "#5a9bd8", "titlePadding": 17,
            "labelColor": "#5b7db1", "labelPadding": 4,
            "domainColor": "#222222", "domainWidth": 1.5,
            "tickColor": "#333333", "tickSize": 6
          }
        }
      },
      "layer": [
        {"mark": {"type": "area", "color": "#9ccdf0", "opacity": 0.24}, "encoding": {"y2": {"datum": -4}}},
        {"mark": {"type": "line", "color": "#529de8", "strokeWidth": 2.0}, "encoding": {}}
      ]
    },
    {
      "data": {"name": "elev"},
      "mark": {"type": "line", "color": "#1fad4b", "strokeWidth": 2.6},
      "encoding": {
        "y": {
          "field": "e", "type": "quantitative",
          "scale": {"domain": [1200, 2600], "nice": false, "zero": false},
          "axis": {
            "orient": "right",
            "values": [1200,1300,1400,1500,1600,1700,1800,1900,2000,2100,2200,2300,2400,2500,2600],
            "format": "d", "grid": false,
            "title": "Elevazione (m)", "titleColor": "#3b8a4e", "titlePadding": 17, "titleAngle": 90,
            "labelColor": "#3b7b4e", "labelPadding": 2,
            "domainColor": "#222222", "domainWidth": 1.5,
            "tickColor": "#333333", "tickSize": 5
          }
        }
      }
    }
  ],
  "resolve": {"scale": {"y": "independent"}}
}
